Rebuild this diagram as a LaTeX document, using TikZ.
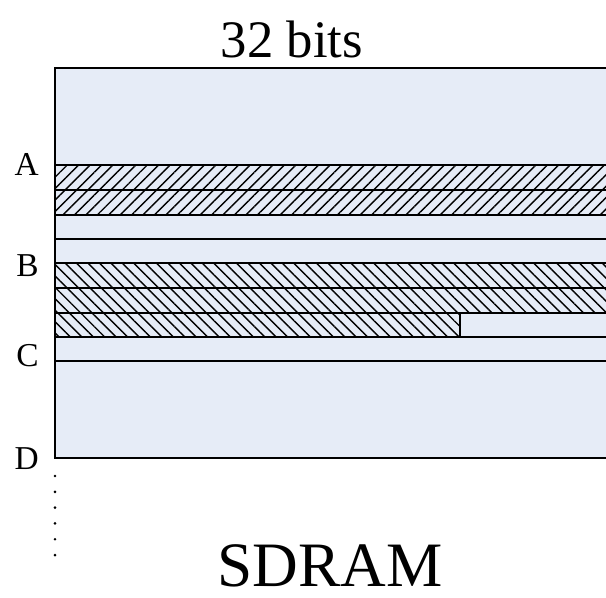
\documentclass[tikz,border=0pt]{standalone}
\usepackage{fontspec}
\setmainfont{Liberation Serif}
\usetikzlibrary{patterns.meta}
\definecolor{memblue}{RGB}{230,236,247}
\tikzset{
  rowline/.style={line width=0.85pt},
  hatchup/.style={pattern={Lines[angle=45,distance=4.6pt,line width=0.8pt]}},
  hatchdown/.style={pattern={Lines[angle=-45,distance=4.6pt,line width=0.8pt]}},
  addr/.style={font=\fontsize{19}{21}\selectfont, inner sep=0pt, anchor=east},
  big/.style={font=\fontsize{36}{40}\selectfont, inner sep=0pt},
}

\begin{document}
\begin{tikzpicture}[x=0.02cm,y=-0.02cm]
        \useasboundingbox (0,0) rectangle (606,598);
        \clip (0,0) rectangle (606,598);

        \coordinate (T) at (55,68);
        \coordinate (A) at (55,165);
        \coordinate (B) at (55,263);
        \coordinate (C) at (55,361);
        \coordinate (D) at (55,458);
        \coordinate (E) at (55,560);

        \fill[memblue] (T) rectangle (612,458);

        % stored words
        \fill[hatchup] (A) rectangle (612,215);
        \fill[hatchdown] (B) rectangle (612,313);
        \fill[hatchdown] (55,313) rectangle (460,337);

        \foreach \y in {165,190,215,239,263,288,313,337,361}
          \draw[rowline] (55,\y) -- (612,\y);
        \draw[rowline] (460,313) -- (460,337);

        \draw[line width=1.1pt] (612,68) -- (T) -- (D) -- (612,458);
        \draw[line width=1.7pt, line cap=round, dash pattern=on 0pt off 9pt] (D) ++(0,18) -- (E);

        \node[addr] (labA) at (39,164) {A};
        \node[addr] (labB) at (39,266) {B};
        \node[addr] (labC) at (39,356) {C};
        \node[addr] (labD) at (39,459) {D};

        \node[big, font=\fontsize{30}{34}\selectfont] (width) at (292,39) {32 bits};
        \node[big] (mem) at (330,566) {SDRAM};
    \end{tikzpicture}
\end{document}
